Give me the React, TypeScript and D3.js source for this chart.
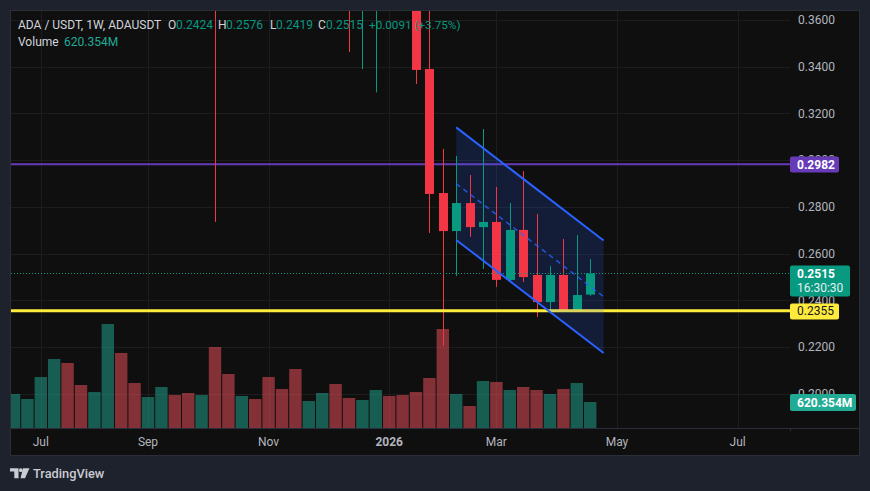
import React from "react";
import * as d3 from "d3";

// weekly ADA/USDT candles, first bar = week of 2025-06-23
const firstWeek = "2025-06-23";
const opens = [0.545, 0.57, 0.585, 0.73, 0.83, 0.8, 0.74, 0.79, 0.93, 0.86, 0.82, 0.84, 0.89, 0.87, 0.79, 0.85, 0.64, 0.63, 0.66, 0.58, 0.55, 0.47, 0.41, 0.42, 0.43, 0.39, 0.37, 0.372, 0.395, 0.39, 0.375, 0.339, 0.2859, 0.2696, 0.2816, 0.2713, 0.2735, 0.2487, 0.2701, 0.2508, 0.2392, 0.2508, 0.2358, 0.2424];
const highs = [0.6, 0.6, 0.75, 0.88, 0.93, 0.82, 0.8, 1.02, 0.95, 0.91, 0.86, 0.92, 0.91, 0.88, 0.87, 0.89, 0.72, 0.68, 0.68, 0.6, 0.57, 0.5, 0.43, 0.47, 0.45, 0.4, 0.38, 0.41, 0.43, 0.42, 0.38, 0.372, 0.3048, 0.3018, 0.2936, 0.3133, 0.2885, 0.2816, 0.2953, 0.2769, 0.2546, 0.2662, 0.2679, 0.2576];
const lows = [0.53, 0.54, 0.58, 0.72, 0.76, 0.68, 0.71, 0.76, 0.8, 0.78, 0.79, 0.83, 0.86, 0.76, 0.78, 0.2735, 0.58, 0.62, 0.57, 0.5, 0.46, 0.38, 0.38, 0.369, 0.37, 0.3463, 0.339, 0.329, 0.37, 0.365, 0.3326, 0.2688, 0.2204, 0.2504, 0.2671, 0.2534, 0.2457, 0.248, 0.2478, 0.2328, 0.2345, 0.2354, 0.2355, 0.2419];
const closes = [0.57, 0.585, 0.73, 0.83, 0.8, 0.74, 0.79, 0.93, 0.86, 0.82, 0.84, 0.89, 0.87, 0.79, 0.85, 0.64, 0.63, 0.66, 0.58, 0.55, 0.47, 0.41, 0.42, 0.43, 0.39, 0.37, 0.372, 0.395, 0.39, 0.375, 0.3386, 0.2855, 0.2696, 0.2816, 0.2713, 0.2735, 0.2487, 0.2701, 0.2499, 0.2392, 0.2508, 0.2358, 0.2422, 0.2515];
// volume in millions
const volumes = [811, 692, 1217, 1646, 1551, 1026, 859, 2481, 1790, 1074, 740, 978, 787, 835, 787, 1933, 1288, 764, 692, 1217, 931, 1408, 644, 835, 1050, 716, 668, 907, 764, 787, 859, 1193, 2362, 811, 525, 1121, 1098, 907, 978, 907, 811, 931, 1074, 620.354];

const priceTicks = [0.36, 0.34, 0.32, 0.3, 0.28, 0.26, 0.24, 0.22, 0.2];
const timeTickDates = ["2025-07-07", "2025-09-01", "2025-11-03", "2026-01-05", "2026-03-02", "2026-05-04", "2026-07-06"];
const timeTickLabels = ["Jul", "Sep", "Nov", "2026", "Mar", "May", "Jul"];

const resistance = 0.2982;
const support = 0.2355;
const lastPrice = 0.2515;
const countdown = "16:30:30";

// descending channel drawing
const channelDates = ["2026-02-09", "2026-04-27"];
const channelUpper = [0.314, 0.2656];
const channelLower = [0.2658, 0.2174];

const C = {
  outer: "#1e222d",
  pane: "#0f0f0f",
  border: "#2a2e39",
  grid: "#1d1d1d",
  text: "#b2b5be",
  up: "#089981",
  down: "#f23645",
  volUp: "#22ab94",
  volDown: "#f7525f",
  purple: "#673ab7",
  yellow: "#ffeb3b",
  blue: "#2962ff",
};

const FONT = "Roboto, 'Trebuchet MS', sans-serif";

export default function App() {
  const dates = opens.map((_, i) => d3.utcMonday.offset(new Date(firstWeek), i));
  const x = d3.scaleUtc()
    .domain([new Date(firstWeek), new Date("2026-07-06")])
    .range([14, 14 + 54 * 13.4]);
  const y = d3.scaleLinear().domain([0.2, 0.36]).range([393.6, 20]);
  const yv = d3.scaleLinear().domain([0, d3.max(volumes) || 1]).range([428, 324]);

  const body = 9;
  const volW = 12.4;

  const chX = channelDates.map(d => x(new Date(d)));
  const area = d3.area<number>()
    .x((_, i) => chX[i])
    .y0((_, i) => y(channelLower[i]))
    .y1((_, i) => y(channelUpper[i]));
  const mid = channelUpper.map((u, i) => (u + channelLower[i]) / 2);
  const channelPath = area([0, 1]) || "";

  const fmt = d3.format(".4f");
  const ySup = y(support);

  return (
    <svg width={870} height={491} style={{ position: "absolute", left: 0, top: 0, display: "block" }} fontFamily={FONT}>
      <defs>
        <clipPath id="pane">
          <rect x={11} y={11} width={779} height={417} />
        </clipPath>
        <clipPath id="supportBand">
          <rect x={11} y={ySup - 1.5} width={779} height={3} />
        </clipPath>
      </defs>
      <rect width={870} height={491} fill={C.outer} />
      <rect x={10.5} y={10.5} width={849} height={445} fill={C.pane} stroke={C.border} />

      {/* grid */}
      {priceTicks.map(p => (
        <line key={p} x1={11} x2={790} y1={Math.round(y(p)) + 0.5} y2={Math.round(y(p)) + 0.5} stroke={C.grid} />
      ))}
      {timeTickDates.map(d => (
        <line key={d} x1={Math.round(x(new Date(d))) + 0.5} x2={Math.round(x(new Date(d))) + 0.5} y1={11} y2={428} stroke={C.grid} />
      ))}

      <g clipPath="url(#pane)">
        {/* volume */}
        {volumes.map((v, i) => (
          <rect key={i} x={x(dates[i]) - volW / 2} y={yv(v)} width={volW} height={428 - yv(v)}
            fill={closes[i] >= opens[i] ? C.volUp : C.volDown} fillOpacity={0.5} />
        ))}

        {/* resistance line */}
        <line x1={11} x2={790} y1={y(resistance)} y2={y(resistance)} stroke={C.purple} strokeWidth={2} />

        {/* channel fill */}
        <path d={channelPath} fill={C.blue} fillOpacity={0.17} />

        {/* candles */}
        {opens.map((o, i) => {
          const cx = Math.round(x(dates[i]));
          const col = closes[i] >= o ? C.up : C.down;
          const top = y(Math.max(o, closes[i]));
          const bot = y(Math.min(o, closes[i]));
          return (
            <g key={i}>
              <rect x={cx} y={y(highs[i])} width={1} height={y(lows[i]) - y(highs[i])} fill={col} />
              <rect x={cx + 0.5 - body / 2} y={top} width={body} height={Math.max(1, bot - top)} fill={col} />
            </g>
          );
        })}

        {/* last price line */}
        <line x1={11} x2={790} y1={Math.round(y(lastPrice)) + 0.5} y2={Math.round(y(lastPrice)) + 0.5}
          stroke={C.up} strokeDasharray="1 2" />

        {/* support line, tinted where the channel covers it */}
        <line x1={11} x2={790} y1={ySup} y2={ySup} stroke={C.yellow} strokeWidth={3} />
        <path d={channelPath} fill={C.blue} fillOpacity={0.17} clipPath="url(#supportBand)" />

        {/* channel lines */}
        <line x1={chX[0]} x2={chX[1]} y1={y(channelUpper[0])} y2={y(channelUpper[1])} stroke={C.blue} strokeWidth={2} />
        <line x1={chX[0]} x2={chX[1]} y1={y(channelLower[0])} y2={y(channelLower[1])} stroke={C.blue} strokeWidth={2} />
        <line x1={chX[0]} x2={chX[1]} y1={y(mid[0])} y2={y(mid[1])} stroke={C.blue} strokeWidth={1.5}
          strokeDasharray="5 4" strokeOpacity={0.8} />
      </g>

      {/* time axis */}
      <line x1={11} x2={859} y1={428.5} y2={428.5} stroke={C.border} />
      <line x1={790.5} x2={790.5} y1={428} y2={431} stroke={C.border} />
      {timeTickDates.map((d, i) => (
        <text key={d} x={x(new Date(d))} y={446} textAnchor="middle" fontSize={12}
          fontWeight={timeTickLabels[i] === "2026" ? 700 : 400} fill={C.text}>{timeTickLabels[i]}</text>
      ))}

      {/* price axis */}
      {priceTicks.map(p => (
        <text key={p} x={798} y={y(p) + 4.3} fontSize={12} fill={C.text}>{fmt(p)}</text>
      ))}

      <rect x={790} y={Math.round(y(resistance)) - 7.5} width={49} height={16} rx={2} fill={C.purple} />
      <text x={797} y={y(resistance) + 4.5} fontSize={12} fontWeight={700} fill="#fff">{fmt(resistance)}</text>

      <rect x={790} y={Math.round(y(lastPrice)) - 7.5} width={60} height={31} rx={2} fill={C.up} />
      <text x={797} y={y(lastPrice) + 5} fontSize={12} fontWeight={700} fill="#fff">{fmt(lastPrice)}</text>
      <text x={797} y={y(lastPrice) + 18.5} fontSize={12} fill="#e0f2ee">{countdown}</text>

      <rect x={790} y={Math.round(ySup) - 7.5} width={49} height={16} rx={2} fill={C.yellow} />
      <text x={797} y={ySup + 4.5} fontSize={12} fill="#131722">{fmt(support)}</text>

      <rect x={790} y={yv(volumes[volumes.length - 1]) - 8} width={66} height={17} rx={2} fill={C.volUp} />
      <text x={797} y={yv(volumes[volumes.length - 1]) + 4.7} fontSize={12} fontWeight={700} fill="#fff">620.354M</text>

      {/* legend */}
      <g fontSize={12}>
        <text x={18} y={29} fill="#d1d4dc">ADA / USDT, 1W, ADAUSDT</text>
        <text x={168} y={29} fill="#d1d4dc">O</text>
        <text x={176} y={29} fill={C.up}>{fmt(opens[opens.length - 1])}</text>
        <text x={218} y={29} fill="#d1d4dc">H</text>
        <text x={226} y={29} fill={C.up}>{fmt(highs[highs.length - 1])}</text>
        <text x={270} y={29} fill="#d1d4dc">L</text>
        <text x={276} y={29} fill={C.up}>{fmt(lows[lows.length - 1])}</text>
        <text x={318} y={29} fill="#d1d4dc">C</text>
        <text x={326} y={29} fill={C.up}>{fmt(closes[closes.length - 1])}</text>
        <text x={369} y={29} fill={C.up} fontSize={11.7}>+0.0091 (+3.75%)</text>
        <text x={18} y={46} fill="#d1d4dc">Volume</text>
        <text x={64} y={46} fill={C.volUp}>620.354M</text>
      </g>

      {/* logo */}
      <g fill="#c9ccd3">
        <path d="M10,468.3 H18.5 V478.3 H14.3 V471.6 H10 Z" />
        <circle cx={20.8} cy={470.2} r={1.9} />
        <path d="M23,468.3 H29.5 L25,478.3 H20.5 Z" />
        <text x={33} y={478} fontSize={12.8} fontWeight={500}>TradingView</text>
      </g>
    </svg>
  );
}
